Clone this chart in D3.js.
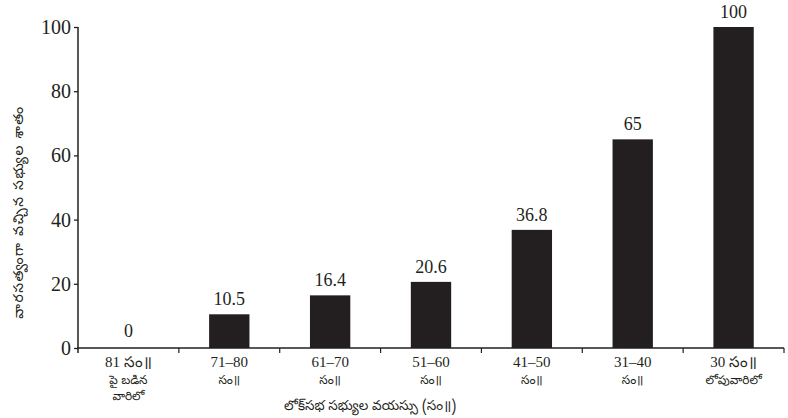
<!DOCTYPE html>
<html>
<head>
<meta charset="utf-8">
<script src="https://cdn.jsdelivr.net/npm/d3@7"></script>
<style>
  html, body { margin: 0; padding: 0; background: #fff; }
  svg { display: block; }
</style>
</head>
<body>
<svg id="chart" width="788" height="418"></svg>
<script>
// ---- data ----
const categoryNumbers = ["81 సం॥", "71–80", "61–70", "51–60", "41–50", "31–40", "30 సం॥"];
const categorySecondLines = ["పై  బడిన", "సం॥", "సం॥", "సం॥", "సం॥", "సం॥", "లోపువారిలో"];
const categoryThirdLines = ["వారిలో", "", "", "", "", "", ""];
const values = [0, 10.5, 16.4, 20.6, 36.8, 65, 100];
const valueLabels = ["0", "10.5", "16.4", "20.6", "36.8", "65", "100"];
const yTicks = [0, 20, 40, 60, 80, 100];
const xTitle = "లోక్‌సభ సభ్యుల వయస్సు (సం॥)";
const yTitle = "వారసత్వంగా వచ్చిన సభ్యుల శాతం";

// ---- layout ----
const ink = "#231f20";
const serif = "'Liberation Serif', 'DejaVu Serif', serif";
const telugu = "'Noto Sans Telugu', 'Noto Sans', sans-serif";
const mLeft = 78, mRight = 784, mTop = 27, mBottom = 348;

const svg = d3.select("#chart");
const keys = categoryNumbers.map((d, i) => i);

const x = d3.scaleBand().domain(keys).range([mLeft, mRight]).padding(0);
const y = d3.scaleLinear().domain([0, 100]).range([mBottom, mTop]);
const barW = x.bandwidth() * 0.4;

// bars
svg.append("g").selectAll("rect").data(values).join("rect")
  .attr("x", (d, i) => x(i) + (x.bandwidth() - barW) / 2)
  .attr("y", d => y(d))
  .attr("width", barW)
  .attr("height", d => mBottom - y(d))
  .attr("fill", ink);

// value labels
svg.append("g").selectAll("text").data(values).join("text")
  .attr("x", (d, i) => x(i) + x.bandwidth() / 2)
  .attr("y", d => y(d) - (d === 0 ? 11 : 9))
  .attr("text-anchor", "middle")
  .attr("font-family", serif)
  .attr("font-size", 18)
  .attr("fill", ink)
  .text((d, i) => valueLabels[i]);

// y axis
const yAxis = svg.append("g")
  .attr("transform", `translate(${mLeft},0)`)
  .call(d3.axisLeft(y).tickValues(yTicks).tickSize(4).tickPadding(3).tickFormat(d3.format("d")));
yAxis.select(".domain").remove();
yAxis.selectAll("line").attr("stroke", ink).attr("stroke-width", 1.3);
yAxis.selectAll("text").attr("font-family", serif).attr("font-size", 20).attr("fill", ink);
svg.append("line")
  .attr("x1", mLeft).attr("x2", mLeft)
  .attr("y1", y(100)).attr("y2", mBottom + 5)
  .attr("stroke", ink).attr("stroke-width", 1.5);

// x axis line and boundary ticks
svg.append("line")
  .attr("x1", mLeft - 1).attr("x2", mRight)
  .attr("y1", mBottom).attr("y2", mBottom)
  .attr("stroke", ink).attr("stroke-width", 1.5);
const boundaries = keys.slice(1).map(i => x(i)).concat([mRight]);
svg.append("g").selectAll("line").data(boundaries).join("line")
  .attr("x1", d => d).attr("x2", d => d)
  .attr("y1", mBottom).attr("y2", mBottom + 5)
  .attr("stroke", ink).attr("stroke-width", 1.2);

// category labels
const catG = svg.append("g").selectAll("text").data(keys).join("text")
  .attr("x", i => x(i) + x.bandwidth() / 2)
  .attr("y", 367)
  .attr("text-anchor", "middle")
  .attr("fill", ink)
  .attr("font-size", 15);
catG.append("tspan")
  .attr("font-family", serif)
  .text(i => categoryNumbers[i]);
catG.append("tspan")
  .attr("x", i => x(i) + x.bandwidth() / 2)
  .attr("dy", 17)
  .attr("font-family", telugu)
  .attr("font-size", 12)
  .text(i => categorySecondLines[i]);
catG.append("tspan")
  .attr("x", i => x(i) + x.bandwidth() / 2)
  .attr("dy", 16)
  .attr("font-family", telugu)
  .attr("font-size", 12)
  .text(i => categoryThirdLines[i]);

// axis titles
svg.append("text")
  .attr("x", 370).attr("y", 410)
  .attr("text-anchor", "middle")
  .attr("font-family", telugu)
  .attr("font-size", 13.5)
  .attr("fill", ink)
  .text(xTitle);

svg.append("text")
  .attr("transform", `translate(23,212) rotate(-90)`)
  .attr("text-anchor", "middle")
  .attr("font-family", telugu)
  .attr("font-size", 14)
  .attr("fill", ink)
  .attr("letter-spacing", 1.5)
  .text(yTitle);
</script>
</body>
</html>
